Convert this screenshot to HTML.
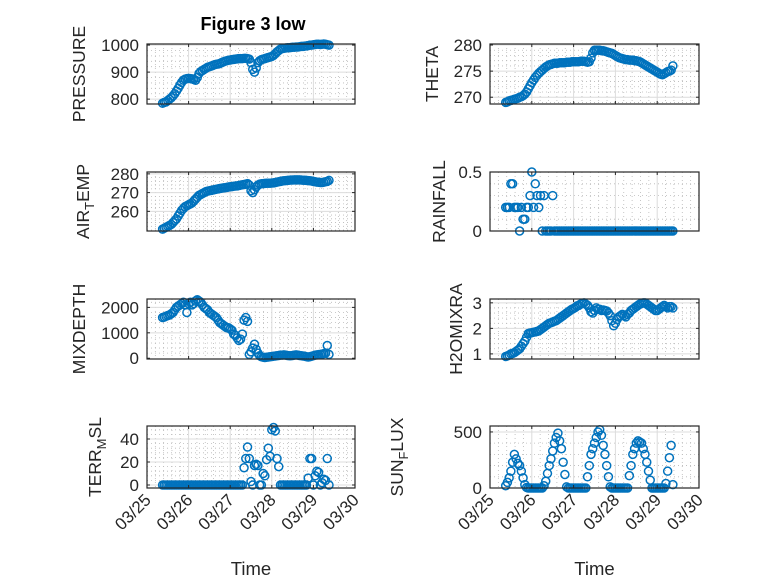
<!DOCTYPE html>
<html><head><meta charset="utf-8"><style>
html,body{margin:0;padding:0;background:#fff;}
svg{display:block;font-family:"Liberation Sans",sans-serif;}
</style></head><body>
<svg id="fig" width="778" height="583" viewBox="0 0 778 583">
<rect x="0" y="0" width="778" height="583" fill="#fff"/>
<text x="253" y="30" text-anchor="middle" font-weight="bold" font-size="18" fill="#000">Figure 3 low</text>
</svg>
<script>
const startHour = 9;
const xTickLabels = ["03/25","03/26","03/27","03/28","03/29","03/30"];
const pressure = [785,788,790,795,800,805,812,820,830,840,852,862,870,874,876,877,876,875,873,870,880,895,902,906,910,914,918,920,922,925,927,929,930,932,935,938,940,942,944,945,946,947,948,949,950,950,950,951,951,950,948,935,910,900,915,935,942,946,948,950,952,954,956,958,962,968,975,980,985,987,988,989,990,990,991,992,992,993,993,994,995,995,996,997,998,1000,1000,1001,1002,1003,1003,1002,1003,1004,1003,1001,1000];
const theta = [269,269.1,269.3,269.4,269.5,269.6,269.7,269.8,270,270.1,270.3,270.6,271,271.6,272.2,272.8,273.3,273.8,274.2,274.6,274.9,275.2,275.5,275.8,276,276.2,276.3,276.4,276.5,276.5,276.5,276.6,276.6,276.6,276.6,276.7,276.7,276.7,276.8,276.8,276.8,276.8,276.8,276.9,276.9,276.9,276.8,276.7,276.8,277.5,278.5,279,279,279,279,278.9,278.9,278.8,278.7,278.6,278.5,278.4,278.2,278,277.8,277.6,277.5,277.4,277.3,277.2,277.2,277.1,277.1,277.1,277,277,276.9,276.8,276.6,276.4,276.2,276,275.8,275.6,275.4,275.2,275,274.8,274.6,274.4,274.3,274.5,274.7,274.9,275,275.2,276];
const airTemp = [250.5,251,251.5,252,252.5,253,254,255,256,257.5,259,260.5,261.5,262.5,263,263.5,264,264.5,265.5,266.5,267.5,268.5,269,269.5,270,270.5,270.8,271,271.2,271.4,271.6,271.8,272,272.2,272.3,272.5,272.6,272.8,273,273.1,273.2,273.4,273.5,273.6,273.8,274,274.2,274.3,274.5,274.8,274,271,270,271.5,273,274,274.5,274.7,274.8,274.9,275,275,275,275.1,275.2,275.4,275.6,275.8,276,276.2,276.3,276.4,276.5,276.6,276.7,276.7,276.8,276.8,276.8,276.8,276.7,276.6,276.6,276.5,276.4,276.3,276.2,276,275.8,275.6,275.5,275.4,275.4,275.5,275.8,276,276.5];
const rainfall = [0.2,0.2,0.2,0.4,0.4,0.2,0.2,0.2,0,0.2,0.1,0.1,0.2,0.2,0.3,0.5,0.2,0.4,0.3,0.2,0.3,0,0.3,0,0,0,0,0.3,0,0,0,0,0,0,0,0,0,0,0,0,0,0,0,0,0,0,0,0,0,0,0,0,0,0,0,0,0,0,0,0,0,0,0,0,0,0,0,0,0,0,0,0,0,0,0,0,0,0,0,0,0,0,0,0,0,0,0,0,0,0,0,0,0,0,0,0,0];
const mixDepth = [1600,1620,1650,1680,1700,1750,1800,1900,2000,2050,2100,2150,2200,2100,1800,2150,2200,2100,2150,2250,2300,2250,2200,2100,2000,1950,1900,1800,1750,1700,1650,1600,1500,1400,1350,1300,1250,1200,1200,1150,1100,950,900,800,700,750,950,1500,1600,1450,150,250,400,550,350,200,100,60,40,30,40,50,60,70,80,90,100,110,120,120,130,120,110,100,100,110,120,130,120,110,100,90,80,60,50,60,80,100,120,130,140,150,160,180,200,500,150];
const h2oMix = [0.9,0.92,0.95,1.0,1.02,1.05,1.1,1.15,1.2,1.3,1.4,1.5,1.65,1.8,1.82,1.83,1.85,1.86,1.88,1.9,1.95,2.0,2.05,2.1,2.15,2.2,2.22,2.25,2.28,2.3,2.35,2.4,2.45,2.5,2.55,2.6,2.65,2.7,2.75,2.78,2.82,2.88,2.9,2.95,2.98,3.0,2.95,2.9,2.8,2.65,2.6,2.7,2.8,2.75,2.75,2.7,2.72,2.7,2.68,2.6,2.5,2.3,2.1,2.2,2.35,2.45,2.5,2.55,2.5,2.45,2.55,2.6,2.7,2.75,2.8,2.85,2.9,2.95,2.98,3.0,3.0,2.95,2.9,2.85,2.8,2.75,2.7,2.7,2.75,2.8,2.85,2.9,2.85,2.8,2.85,2.85,2.8];
const terrMsl = [0,0,0,0,0,0,0,0,0,0,0,0,0,0,0,0,0,0,0,0,0,0,0,0,0,0,0,0,0,0,0,0,0,0,0,0,0,0,0,0,0,0,0,0,0,0,0,15,23,33,23,3,0,17,18,17,0,0,10,8,22,32,25,48,50,47,23,16,0,0,0,0,0,0,0,0,0,0,0,0,0,0,0,0,6,23,23,0,8,12,11,0,2,5,4,23,0];
const sunFlux = [20,50,90,150,230,300,260,220,200,150,90,30,5,0,0,0,0,0,0,0,0,0,20,60,130,200,260,330,400,450,490,420,350,230,120,10,0,0,0,0,0,0,0,0,0,0,0,100,200,300,350,400,450,500,520,470,380,300,200,100,10,0,0,0,0,0,0,0,0,0,0,110,200,300,350,400,420,410,400,350,300,230,150,70,0,0,0,0,0,0,0,0,40,150,270,380,30];

const pressureTicks = [800,900,1000];
const thetaTicks = [270,275,280];
const airTempTicks = [260,270,280];
const rainfallTicks = [0,0.5];
const mixDepthTicks = [0,1000,2000];
const h2oTicks = [1,2,3];
const terrTicks = [0,20,40];
const sunTicks = [0,500];

const NS="http://www.w3.org/2000/svg";
const svg=document.getElementById('fig');
function mk(tag,attrs,parent){const e=document.createElementNS(NS,tag);for(const k in attrs)e.setAttribute(k,attrs[k]);(parent||svg).appendChild(e);return e;}

const LEFT=[147,355], RIGHT=[490,699];
const ROWS=[[44,104],[172,231],[299,359],[426,488]];
const plots=[
 {id:'pressure',data:pressure,ticks:pressureTicks,lim:[782,1004],minor:20,col:LEFT,row:0,label:['PRESSURE'],lx:85},
 {id:'theta',data:theta,ticks:thetaTicks,lim:[268.7,280.2],minor:1,col:RIGHT,row:0,label:['THETA'],lx:438},
 {id:'air-temp',data:airTemp,ticks:airTempTicks,lim:[249.5,281],minor:2,col:LEFT,row:1,label:['AIR','T','EMP'],lx:89},
 {id:'rainfall',data:rainfall,ticks:rainfallTicks,lim:[0,0.5],minor:0.1,col:RIGHT,row:1,label:['RAINFALL'],lx:445},
 {id:'mixdepth',data:mixDepth,ticks:mixDepthTicks,lim:[-30,2330],minor:200,col:LEFT,row:2,label:['MIXDEPTH'],lx:85},
 {id:'h2omixra',data:h2oMix,ticks:h2oTicks,lim:[0.8,3.15],minor:0.2,col:RIGHT,row:2,label:['H2OMIXRA'],lx:462},
 {id:'terr-msl',data:terrMsl,ticks:terrTicks,lim:[-2.6,51.3],minor:4,col:LEFT,row:3,label:['TERR','M','SL'],lx:101,xlabels:true},
 {id:'sun-flux',data:sunFlux,ticks:sunTicks,lim:[0,553],minor:100,col:RIGHT,row:3,label:['SUN','F','LUX'],lx:403,xlabels:true}
];

plots.forEach(p=>{
 const x0=p.col[0],x1=p.col[1],y0=ROWS[p.row][0],y1=ROWS[p.row][1];
 const xs=d=>x0+(d/5)*(x1-x0);
 const ys=v=>y1-(v-p.lim[0])/(p.lim[1]-p.lim[0])*(y1-y0);
 const g=mk('g',{});
 
 
 mk('rect',{x:x0,y:y0,width:x1-x0,height:y1-y0,fill:'#fff'},g);
 for(let d=0.2;d<5;d+=0.2){ if(Math.abs(d-Math.round(d))<1e-6)continue;
   mk('line',{x1:xs(d),x2:xs(d),y1:y0,y2:y1,stroke:'#b8b8b8','stroke-width':0.8,'stroke-dasharray':'1 3'},g);}
 const s0=Math.ceil(p.lim[0]/p.minor-1e-9);
 for(let k=s0;k*p.minor<=p.lim[1]+1e-9;k++){const v=k*p.minor;
   if(p.ticks.some(t=>Math.abs(t-v)<1e-6))continue;
   mk('line',{x1:x0,x2:x1,y1:ys(v),y2:ys(v),stroke:'#b8b8b8','stroke-width':0.8,'stroke-dasharray':'1 3'},g);}
 for(let d=1;d<5;d++) mk('line',{x1:xs(d),x2:xs(d),y1:y0,y2:y1,stroke:'#dcdcdc','stroke-width':1},g);
 p.ticks.forEach(t=>{ if(ys(t)>y0+1&&ys(t)<y1-1) mk('line',{x1:x0,x2:x1,y1:ys(t),y2:ys(t),stroke:'#dcdcdc','stroke-width':1},g);});
 const mg=mk('g',{fill:'none',stroke:'#0072BD','stroke-width':1.5},g);
 
 
 p.data.forEach((v,i)=>{
   const c=mk('circle',{cx:xs((startHour+i)/24),cy:ys(v),r:4},mg);
   
   
 });
 mk('rect',{x:x0,y:y0,width:x1-x0,height:y1-y0,fill:'none',stroke:'#262626','stroke-width':1.2},g);
 for(let d=0;d<=5;d++){mk('line',{x1:xs(d),x2:xs(d),y1:y1,y2:y1-3,stroke:'#262626'},g);mk('line',{x1:xs(d),x2:xs(d),y1:y0,y2:y0+3,stroke:'#262626'},g);}
 p.ticks.forEach(t=>{mk('line',{x1:x0,x2:x0+3,y1:ys(t),y2:ys(t),stroke:'#262626'},g);mk('line',{x1:x1,x2:x1-3,y1:ys(t),y2:ys(t),stroke:'#262626'},g);
   const tl=mk('text',{x:x0-8,y:ys(t)+6,'text-anchor':'end','font-size':17,fill:'#262626'},g);
   tl.textContent=String(t);
   
   
 });
 const yl=mk('text',{x:p.lx,y:(y0+y1)/2,'text-anchor':'middle','font-size':17.5,fill:'#262626',transform:`rotate(-90 ${p.lx} ${(y0+y1)/2})`},g);
 
 
 if(p.label.length===1){yl.textContent=p.label[0];}
 else{
   const a=mk('tspan',{},yl);a.textContent=p.label[0];
   const b=mk('tspan',{dy:5,'font-size':13},yl);b.textContent=p.label[1];
   const c=mk('tspan',{dy:-5},yl);c.textContent=p.label[2];
 }
 if(p.xlabels){
   xTickLabels.forEach((lab,d)=>{
     const tx=xs(d)+5, ty=y1+13;
     const t=mk('text',{x:tx,y:ty,'text-anchor':'end','font-size':17,fill:'#262626',transform:`rotate(-45 ${tx} ${ty})`},g);
     t.textContent=lab;
     
     
   });
   const xt=mk('text',{x:(x0+x1)/2,y:575,'text-anchor':'middle','font-size':18.5,fill:'#262626'},g);
   xt.textContent='Time';
   
   
 }
});
</script>
</body></html>
